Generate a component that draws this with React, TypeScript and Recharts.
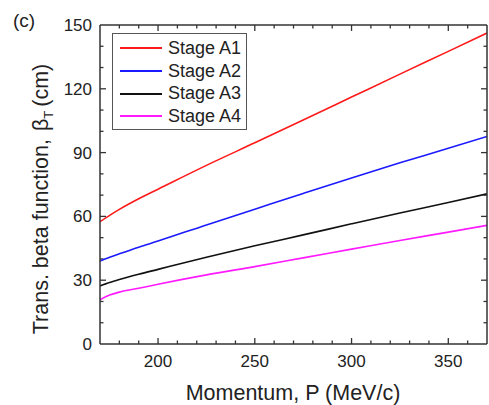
import { LineChart, Line, XAxis, YAxis, Legend, ReferenceLine } from 'recharts'

const momentum = [170, 175, 180, 190, 200, 225, 250, 275, 300, 325, 350, 370]
const stageA1 = [57.5, 60.5, 63.3, 68.3, 72.8, 84, 94.6, 105.3, 116.1, 126.9, 137.6, 146.2]
const stageA2 = [39, 40.8, 42.4, 45.5, 48.4, 56, 63.4, 70.8, 78.1, 85.2, 92, 97.6]
const stageA3 = [27.3, 28.9, 30.3, 32.8, 35.1, 40.8, 46.2, 51.3, 56.5, 61.6, 66.5, 70.6]
const stageA4 = [20.8, 23, 24.4, 26.2, 28.1, 32.5, 36.4, 40.5, 44.6, 48.7, 52.6, 55.8]

const xMinorTicks = [180, 190, 210, 220, 230, 240, 260, 270, 280, 290, 310, 320, 330, 340, 360]
const xMajorTicks = [200, 250, 300, 350]
const yMinorTicks = [10, 20, 40, 50, 70, 80, 100, 110, 130, 140]
const yMajorTicks = [0, 30, 60, 90, 120, 150]

const chartData = momentum.map((p, i) => ({
  p,
  a1: stageA1[i],
  a2: stageA2[i],
  a3: stageA3[i],
  a4: stageA4[i]
}))

const FONT = '"Liberation Sans", Arial, sans-serif'
const AXIS = '#333'
const frameLine = { stroke: AXIS, strokeWidth: 1.5 }
const xDomain = [170, 370]
const yDomain = [0, 150]

// inward tick lengths, in the other axis' units (about 6px major, 3.5px minor)
const X_TICK_MAJOR = 2.8
const X_TICK_MINOR = 1.65
const Y_TICK_MAJOR = 3.1
const Y_TICK_MINOR = 1.8

const tickMarks = [
  ...xMajorTicks.map(v => ({ v, len: X_TICK_MAJOR, dir: 'x' })),
  ...xMinorTicks.map(v => ({ v, len: X_TICK_MINOR, dir: 'x' })),
  ...yMajorTicks.filter(v => v > yDomain[0] && v < yDomain[1]).map(v => ({ v, len: Y_TICK_MAJOR, dir: 'y' })),
  ...yMinorTicks.map(v => ({ v, len: Y_TICK_MINOR, dir: 'y' }))
]

const BottomLabel = ({ x, y, payload }: any) => (
  <text x={x} y={y + 23} textAnchor="middle" fontSize={17} fontFamily={FONT} fill="#222">
    {payload.value}
  </text>
)

const LeftLabel = ({ x, y, payload }: any) => (
  <text x={x - 8} y={y + 6} textAnchor="end" fontSize={17} fontFamily={FONT} fill="#222">
    {payload.value}
  </text>
)

const LegendBox = ({ payload }: any) => (
  <div
    style={{
      width: 133,
      height: 92,
      border: '1.5px solid #555',
      background: '#fff',
      fontFamily: FONT,
      fontSize: 18,
      color: '#222',
      paddingTop: 3
    }}
  >
    {(payload || []).map((entry: any) => (
      <div key={entry.value} style={{ display: 'flex', alignItems: 'center', height: 22.7 }}>
        <div style={{ width: 42, height: 2, background: entry.color, marginLeft: 7, marginRight: 6 }} />
        <span>{entry.value}</span>
      </div>
    ))}
  </div>
)

export default function App() {
  return (
    <div style={{ width: 489, height: 405, position: 'relative', background: '#fff' }}>
      <style>{'body{margin:0}'}</style>
      <LineChart width={489} height={405} data={chartData} margin={{ top: 25, right: 2, bottom: 0, left: 0 }}>
        <XAxis dataKey="p" type="number" domain={xDomain} ticks={xMajorTicks} interval={0} height={61}
          tickSize={0} tickMargin={0} tickLine={false} tick={<BottomLabel />} axisLine={frameLine} allowDataOverflow />
        <YAxis type="number" domain={yDomain} ticks={yMajorTicks} interval={0} width={100}
          tickSize={0} tickMargin={0} tickLine={false} tick={<LeftLabel />} axisLine={frameLine} allowDataOverflow />

        {/* top and right frame */}
        <XAxis xAxisId="top" mirror orientation="top" dataKey="p" type="number" domain={xDomain} ticks={xMajorTicks}
          height={1} tick={false} tickLine={false} axisLine={frameLine} allowDataOverflow />
        <YAxis yAxisId="right" mirror orientation="right" type="number" domain={yDomain} ticks={yMajorTicks}
          width={1} tick={false} tickLine={false} axisLine={frameLine} allowDataOverflow />

        {tickMarks.map(t =>
          t.dir === 'x'
            ? [
                <ReferenceLine key={`b${t.v}`} segment={[{ x: t.v, y: yDomain[0] }, { x: t.v, y: yDomain[0] + t.len }]} stroke={AXIS} strokeWidth={1.3} ifOverflow="visible" />,
                <ReferenceLine key={`t${t.v}`} segment={[{ x: t.v, y: yDomain[1] }, { x: t.v, y: yDomain[1] - t.len }]} stroke={AXIS} strokeWidth={1.3} ifOverflow="visible" />
              ]
            : [
                <ReferenceLine key={`l${t.v}`} segment={[{ x: xDomain[0], y: t.v }, { x: xDomain[0] + t.len, y: t.v }]} stroke={AXIS} strokeWidth={1.3} ifOverflow="visible" />,
                <ReferenceLine key={`r${t.v}`} segment={[{ x: xDomain[1], y: t.v }, { x: xDomain[1] - t.len, y: t.v }]} stroke={AXIS} strokeWidth={1.3} ifOverflow="visible" />
              ]
        )}

        <Legend
          layout="vertical"
          align="center"
          verticalAlign="middle"
          content={<LegendBox />}
          wrapperStyle={{ top: 33, left: 112, width: 'auto' }}
        />
        <Line type="monotone" dataKey="a1" name="Stage A1" stroke="#ff1a1a" strokeWidth={1.6} dot={false} isAnimationActive={false} />
        <Line type="monotone" dataKey="a2" name="Stage A2" stroke="#1a1aff" strokeWidth={1.6} dot={false} isAnimationActive={false} />
        <Line type="monotone" dataKey="a3" name="Stage A3" stroke="#111" strokeWidth={1.6} dot={false} isAnimationActive={false} />
        <Line type="monotone" dataKey="a4" name="Stage A4" stroke="#ff1aff" strokeWidth={1.6} dot={false} isAnimationActive={false} />
        <text x={13} y={27} fontSize={19} fontFamily={FONT} fill="#222">(c)</text>
        <text x={293} y={400} textAnchor="middle" fontSize={21.5} fontFamily={FONT} fill="#222">
          Momentum, P (MeV/c)
        </text>
        <text
          x={48}
          y={199}
          textAnchor="middle"
          fontSize={21.5}
          fontFamily={FONT}
          fill="#222"
          transform="rotate(-90, 48, 199)"
        >
          Trans. beta function,
          <tspan dx={8}>β</tspan>
          <tspan dy={5} fontSize={13}>T</tspan>
          <tspan dy={-5} dx={4}>(cm)</tspan>
        </text>
      </LineChart>
    </div>
  )
}
